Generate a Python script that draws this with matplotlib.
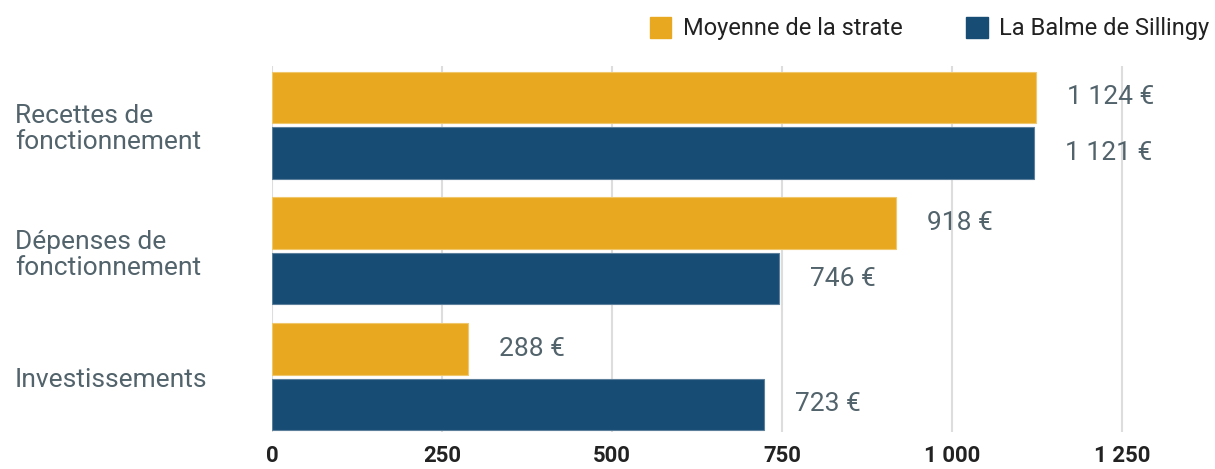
import numpy as np
import matplotlib.pyplot as plt
from matplotlib.patches import Patch
import matplotlib.transforms as mtransforms

# Données du graphique (en euros par habitant)
categories = ["Recettes de\nfonctionnement", "Dépenses de\nfonctionnement", "Investissements"]
moyenne_strate = [1124, 918, 288]
la_balme = [1121, 746, 723]
labels_moyenne = ["1 124 €", "918 €", "288 €"]
labels_balme = ["1 121 €", "746 €", "723 €"]
ticks = [0, 250, 500, 750, 1000, 1250]
tick_labels = ["0", "250", "500", "750", "1 000", "1 250"]

jaune = "#E8A921"
bleu = "#174C74"
gris_texte = "#52636B"

plt.rcParams["font.family"] = ["Roboto", "DejaVu Sans"]

fig = plt.figure(figsize=(12.15, 4.69), dpi=100)
ax = fig.add_axes([272 / 1215, 1 - 432 / 469, 891 / 1215, (432 - 66) / 469])

y = np.arange(len(categories))
h = 0.41
off = 0.22
ax.barh(y - off, moyenne_strate, height=h, color=jaune, edgecolor="#F0C76A", linewidth=0.8, zorder=2)
ax.barh(y + off, la_balme, height=h, color=bleu, edgecolor="#5C7F9C", linewidth=0.8, zorder=2)

ax.set_xlim(0, 1310)
ax.set_ylim(2.44, -0.47)
ax.set_xticks(ticks)
ax.set_xticklabels(tick_labels, fontsize=16, fontweight="bold", color="#222222")
ax.tick_params(axis="x", length=0, pad=9)
ax.set_yticks([])
ax.grid(axis="x", color="#DDDDDD", linewidth=1.5, zorder=0)
ax.set_axisbelow(True)
for s in ax.spines.values():
    s.set_visible(False)

# étiquettes des valeurs
for i in range(len(categories)):
    ax.annotate(labels_moyenne[i], (moyenne_strate[i], y[i] - off), xytext=(31, 0),
                textcoords="offset pixels", va="center", ha="left", fontsize=19,
                color=gris_texte, zorder=3)
    ax.annotate(labels_balme[i], (la_balme[i], y[i] + off), xytext=(31, 0),
                textcoords="offset pixels", va="center", ha="left", fontsize=19,
                color=gris_texte, zorder=3)

# libellés des catégories
trans = mtransforms.blended_transform_factory(fig.transFigure, ax.transData)
for i, c in enumerate(categories):
    ax.text(15 / 1215, y[i] + 0.03, c, transform=trans, ha="left", va="center",
            fontsize=19, color=gris_texte, linespacing=1.1)

handles = [Patch(color=jaune, label="Moyenne de la strate"),
           Patch(color=bleu, label="La Balme de Sillingy")]
fig.legend(handles=handles, loc="upper right", bbox_to_anchor=(1.013, 1.01), ncol=2,
           frameon=False, fontsize=17, handlelength=0.9, handleheight=1.0,
           handletextpad=0.5, columnspacing=2.7, labelcolor="#222222")

fig.savefig("out.png", dpi=100)
